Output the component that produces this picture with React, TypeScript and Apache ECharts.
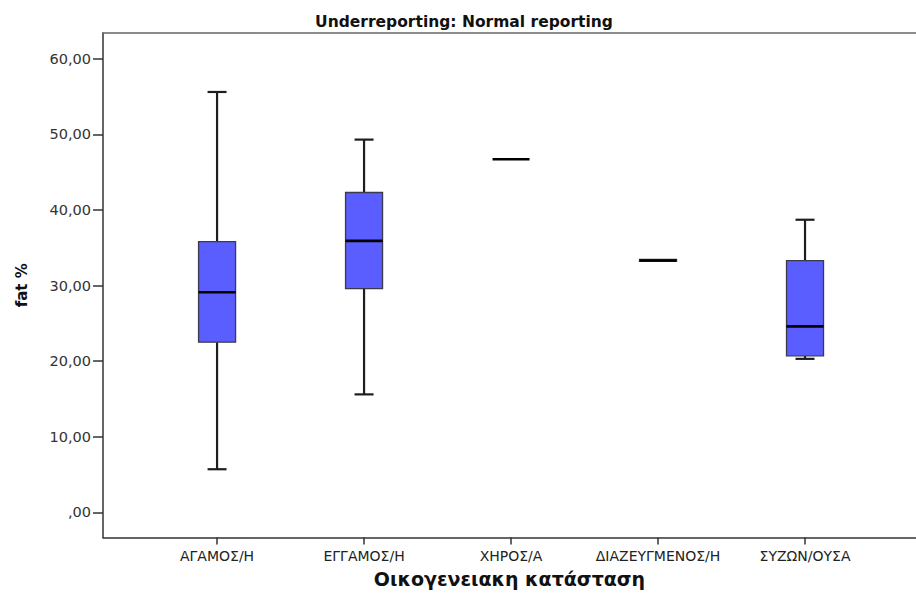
import React, { useEffect, useRef } from "react";
import * as echarts from "echarts";

// Marital status groups on the x axis
const categories = ["ΑΓΑΜΟΣ/Η", "ΕΓΓΑΜΟΣ/Η", "ΧΗΡΟΣ/Α", "ΔΙΑΖΕΥΓΜΕΝΟΣ/Η", "ΣΥΖΩΝ/ΟΥΣΑ"];

// Box statistics of fat % per group
const whiskerLow = [5.7, 15.6, 46.7, 33.3, 20.3];
const quartile1 = [22.5, 29.6, 46.7, 33.2, 20.7];
const medians = [29.1, 35.9, 46.7, 33.3, 24.6];
const quartile3 = [35.8, 42.3, 46.7, 33.45, 33.3];
const whiskerHigh = [55.6, 49.3, 46.7, 33.3, 38.7];

// Y axis ticks
const yTicks = [0, 10, 20, 30, 40, 50, 60];

const categoryPositions = categories.map((_, i) => i);

const boxData = categories.map((_, i) => [
  i,
  whiskerLow[i],
  quartile1[i],
  medians[i],
  quartile3[i],
  whiskerHigh[i],
]);

const fmtTick = (v: number) => {
  if (v === 0) return ",00";
  return v.toFixed(2).replace(".", ",");
};

const X_MIN = -0.776;
const X_MAX = 4.755;

export default function App() {
  const ref = useRef<HTMLDivElement>(null);

  useEffect(() => {
    if (!ref.current) return;
    const chart = echarts.init(ref.current, undefined, { renderer: "svg" });

    const renderItem = (params: any, api: any) => {
      const x = api.value(0);
      const lo = api.value(1);
      const q1 = api.value(2);
      const med = api.value(3);
      const q3 = api.value(4);
      const hi = api.value(5);
      const boxW = 37;
      const capW = 19;
      const [cx, yLo] = api.coord([x, lo]);
      const yQ1 = api.coord([x, q1])[1];
      const yMed = api.coord([x, med])[1];
      const yQ3 = api.coord([x, q3])[1];
      const yHi = api.coord([x, hi])[1];
      const whiskerStyle = { stroke: "#1e1e1e", lineWidth: 2.2 };
      const children: any[] = [];
      if (hi > q3) {
        children.push(
          { type: "line", shape: { x1: cx, y1: yQ3, x2: cx, y2: yHi }, style: whiskerStyle },
          { type: "line", shape: { x1: cx - capW / 2, y1: yHi, x2: cx + capW / 2, y2: yHi }, style: whiskerStyle }
        );
      }
      if (lo < q1) {
        children.push(
          { type: "line", shape: { x1: cx, y1: yQ1, x2: cx, y2: yLo }, style: whiskerStyle },
          { type: "line", shape: { x1: cx - capW / 2, y1: yLo, x2: cx + capW / 2, y2: yLo }, style: whiskerStyle }
        );
      }
      if (q3 > q1) {
        children.push({
          type: "rect",
          shape: { x: cx - boxW / 2, y: yQ3, width: boxW, height: yQ1 - yQ3 },
          style: { fill: "#5b5eff", stroke: "#3a3a4a", lineWidth: 1.3 },
        });
      }
      children.push({
        type: "line",
        shape: { x1: cx - boxW / 2, y1: yMed, x2: cx + boxW / 2, y2: yMed },
        style: { stroke: "#000", lineWidth: 2.6 },
      });
      return { type: "group", children };
    };

    chart.setOption({
      animation: false,
      title: {
        text: "Underreporting: Normal reporting",
        left: 459,
        textAlign: "center",
        top: 9,
        textStyle: {
          fontFamily: "DejaVu Sans",
          fontWeight: "bold",
          fontSize: 15.5,
          color: "#111",
        },
      },
      grid: {
        left: 103,
        top: 33,
        right: 0,
        bottom: 57.5,
        outerBoundsMode: "none",
      },
      xAxis: [
        {
          type: "value",
          min: X_MIN,
          max: X_MAX,
          name: "Οικογενειακη κατάσταση",
          nameLocation: "middle",
          nameGap: 32,
          nameTextStyle: {
            fontFamily: "DejaVu Sans",
            fontSize: 19,
            fontWeight: "bold",
            color: "#111",
          },
          splitLine: { show: false },
          axisLine: { show: true, onZero: false, lineStyle: { color: "#333", width: 1.5 } },
          axisTick: {
            show: true,
            length: 7,
            lineStyle: { color: "#333", width: 1.5 },
            customValues: categoryPositions,
          },
          axisLabel: {
            customValues: categoryPositions,
            formatter: (v: number) => categories[Math.round(v)] ?? "",
            fontFamily: "DejaVu Sans",
            fontSize: 14,
            color: "#222",
            margin: 11,
          },
        },
        {
          // frame line along the top of the plot
          type: "value",
          position: "top",
          min: X_MIN,
          max: X_MAX,
          splitLine: { show: false },
          axisLine: { show: true, onZero: false, lineStyle: { color: "#666", width: 1.6 } },
          axisTick: { show: false },
          axisLabel: { show: false },
        },
      ],
      yAxis: {
        type: "value",
        min: -3.33,
        max: 63.4,
        name: "fat %",
        nameLocation: "middle",
        nameRotate: 90,
        nameGap: 74,
        nameTextStyle: {
          fontFamily: "DejaVu Sans",
          fontWeight: "bold",
          fontSize: 15,
          color: "#111",
        },
        splitLine: { show: false },
        axisLine: { show: true, onZero: false, lineStyle: { color: "#333", width: 1.5 } },
        axisTick: {
          show: true,
          length: 10,
          lineStyle: { color: "#333", width: 1.5 },
          customValues: yTicks,
        },
        axisLabel: {
          customValues: yTicks,
          formatter: fmtTick,
          fontFamily: "DejaVu Sans",
          fontSize: 14.5,
          color: "#333",
          margin: 12,
        },
      },
      series: [
        {
          type: "custom",
          renderItem,
          data: boxData,
          encode: { x: 0, y: [1, 2, 3, 4, 5] },
          clip: false,
        },
      ],
    });

    return () => chart.dispose();
  }, []);

  return (
    <div
      ref={ref}
      style={{ position: "fixed", left: 0, top: 0, width: 916, height: 595, background: "#fff" }}
    />
  );
}
